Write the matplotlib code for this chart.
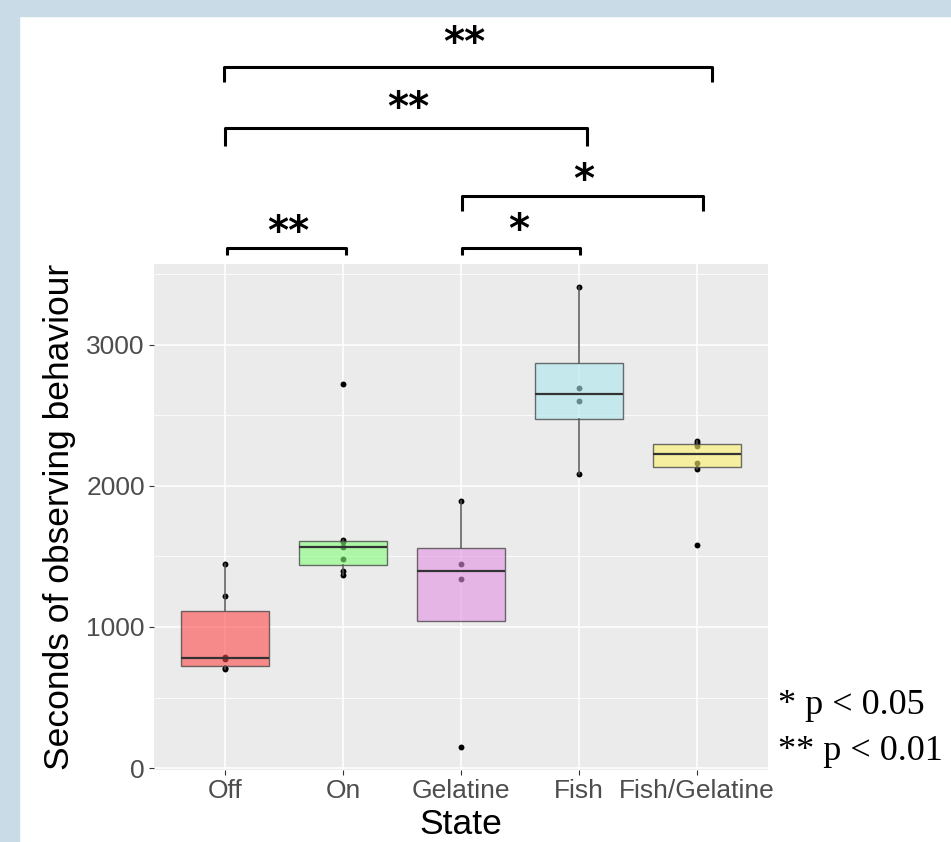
import matplotlib.pyplot as plt
import matplotlib.patches as mpatches

# observing time per state (seconds)
states = ["Off", "On", "Gelatine", "Fish", "Fish/Gelatine"]
off = [702, 706, 772, 788, 1220, 1447]
on = [1370, 1400, 1480, 1567, 1600, 1620, 2720]
gelatine = [149, 1340, 1450, 1894]
fish = [2085, 2603, 2695, 3411]
fish_gelatine = [1582, 2121, 2163, 2284, 2305, 2319]
fills = ["#ff4949", "#85ff7b", "#e191e1", "#aae6ed", "#fff26e"]

# significance brackets: ends (category units), height, tick drop, label, label pos
bracket_ends = [(0.993, 5.126), (1.0, 4.067), (3.008, 5.05), (1.018, 2.026), (3.008, 4.008)]
bracket_y = [4972, 4539, 4057, 3688, 3688]
bracket_drop = [107, 125, 107, 50, 50]
bracket_labels = ["**", "**", "*", "**", "*"]
label_x = [3.025, 2.551, 4.042, 1.535, 3.491]
label_y = [5135, 4675, 4160, 3795, 3810]

groups = [off, on, gelatine, fish, fish_gelatine]
pos = list(range(1, len(states) + 1))

fig = plt.figure(figsize=(9.51, 8.42), dpi=100)
fig.patch.set_facecolor("white")
# screenshot frame
fig.patches.append(mpatches.Rectangle((0, 1 - 16 / 842), 1, 16 / 842, transform=fig.transFigure,
                                      color="#c9dbe7", zorder=0))
fig.patches.append(mpatches.Rectangle((0, 0), 19 / 951, 1, transform=fig.transFigure,
                                      color="#c9dbe7", zorder=0))

ax = fig.add_axes([154 / 951, 72 / 842, 614 / 951, 506 / 842])
ax.set_facecolor("#ebebeb")
for s in ax.spines.values():
    s.set_visible(False)

# raw points first, boxes drawn over them with alpha
for p, g in zip(pos, groups):
    ax.scatter([p] * len(g), g, s=18, color="black", zorder=2, linewidths=0)

bp = ax.boxplot(groups, positions=pos, widths=0.75, patch_artist=True, showfliers=False,
                showcaps=False, whis=1.5,
                boxprops=dict(edgecolor=(0.25, 0.25, 0.25, 0.75), linewidth=1.0),
                medianprops=dict(color="#333333", linewidth=1.6),
                whiskerprops=dict(color="#555555", linewidth=1.1), zorder=3)
for patch, c in zip(bp["boxes"], fills):
    fc = list(plt.matplotlib.colors.to_rgba(c))
    fc[3] = 0.6
    patch.set_facecolor(fc)

ax.set_xlim(0.4, 5.6)
ax.set_ylim(-14, 3574)
ax.set_xticks(pos)
ax.set_xticklabels(states)
ax.set_yticks([0, 1000, 2000, 3000])
ax.set_yticks([500, 1500, 2500, 3500], minor=True)
ax.grid(which="major", color="white", linewidth=1.1)
ax.grid(which="minor", color="white", linewidth=0.55)
ax.set_axisbelow(True)
ax.tick_params(which="major", length=3.5, width=0.8, color="#333333", pad=3,
               labelsize=19, labelcolor="#4d4d4d")
ax.tick_params(which="minor", length=0)
for t in ax.get_xticklabels() + ax.get_yticklabels():
    t.set_family("Liberation Sans")

fig.text(60 / 951, 1 - 517 / 842, "Seconds of observing behaviour", rotation=90,
         ha="center", va="center", fontsize=25.5, family="Liberation Sans")
fig.text(461 / 951, 1 - 834 / 842, "State", ha="center", va="baseline",
         fontsize=25.5, family="Liberation Sans")

for (x0, x1), y, d, lab, tx, ty in zip(bracket_ends, bracket_y, bracket_drop,
                                       bracket_labels, label_x, label_y):
    ax.plot([x0, x0, x1, x1], [y - d, y, y, y - d], color="black", linewidth=2.2,
            solid_joinstyle="round", solid_capstyle="butt", clip_on=False, zorder=5)
    ax.text(tx, ty, lab, ha="center", va="center", fontsize=29, fontweight="bold",
            family="DejaVu Sans", clip_on=False)

fig.text(778 / 951, 1 - 705 / 842, "* p < 0.05", ha="left", va="center",
         fontsize=26, family="Liberation Serif")
fig.text(778 / 951, 1 - 752 / 842, "** p < 0.01", ha="left", va="center",
         fontsize=26, family="Liberation Serif")

fig.savefig("out.png", dpi=100)
